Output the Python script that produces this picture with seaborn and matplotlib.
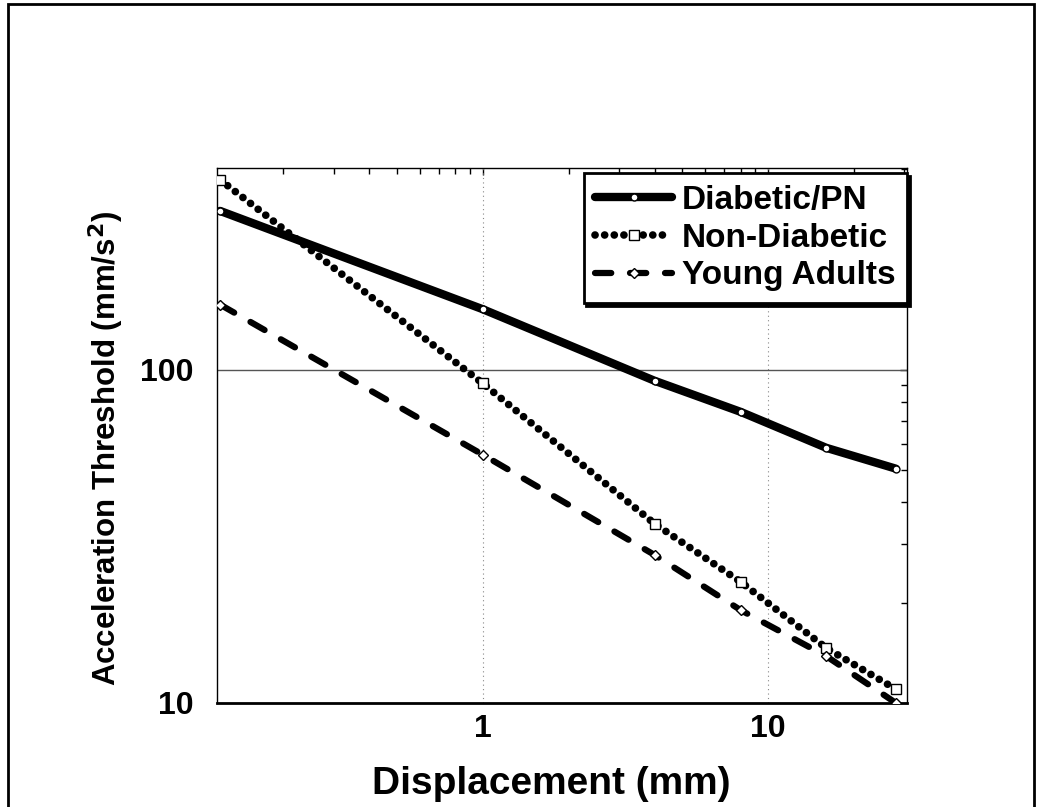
import numpy as np
import pandas as pd
import matplotlib
matplotlib.use("Agg")
import matplotlib.pyplot as plt
import seaborn as sns
from matplotlib.ticker import FixedLocator, FuncFormatter, LogLocator, NullFormatter
from matplotlib.patches import Rectangle

# Displacement (mm) and acceleration thresholds (mm/s^2)
displacement = [0.12, 1, 4, 8, 16, 28]
diabetic_pn = [300, 152, 92.7, 74.8, 58.3, 50.5]
non_diabetic = [372, 91, 34.5, 23.1, 14.6, 11.0]
young_adults = [157, 55.6, 27.8, 19.0, 13.8, 10.0]

series_names = ["Diabetic/PN", "Non-Diabetic", "Young Adults"]
x_ticks = [1, 10]
y_ticks = [10, 100]

sns.set_style("white")
plt.rcParams["font.family"] = ["Liberation Sans", "DejaVu Sans"]
plt.rcParams["font.weight"] = "bold"
for key in ["text.color", "axes.labelcolor", "xtick.color", "ytick.color"]:
    plt.rcParams[key] = "black"

fig = plt.figure(figsize=(10.38, 8.07), dpi=100)
ax = fig.add_axes([0.209, 0.129, 0.665, 0.663])

df = pd.DataFrame({
    "Displacement": displacement * 3,
    "Threshold": diabetic_pn + non_diabetic + young_adults,
    "Group": [n for n in series_names for _ in displacement],
})

styles = {
    "Diabetic/PN": dict(lw=6, linestyle="-", marker="o", ms=5),
    "Non-Diabetic": dict(lw=5.5, linestyle=(0, (0.01, 1.25)), marker="s", ms=7,
                         dash_capstyle="round"),
    "Young Adults": dict(lw=4.5, linestyle=(0, (2.6, 3.0)), marker="D", ms=5,
                         dash_capstyle="round"),
}

for name in series_names:
    st = styles[name]
    sub = df[df["Group"] == name]
    extra = {"dash_capstyle": st["dash_capstyle"]} if "dash_capstyle" in st else {}
    sns.lineplot(data=sub, x="Displacement", y="Threshold", ax=ax, color="black",
                 linewidth=st["lw"], linestyle=st["linestyle"], marker=st["marker"],
                 markersize=st["ms"], markerfacecolor="white", markeredgecolor="black",
                 markeredgewidth=1, label=name, zorder=3, **extra)

ax.set_xscale("log")
ax.set_yscale("log")
ax.set_xlim(0.117, 30.7)
ax.set_ylim(10, 404)

ax.xaxis.set_major_locator(FixedLocator(x_ticks))
ax.yaxis.set_major_locator(FixedLocator(y_ticks))
fmt = FuncFormatter(lambda v, p: f"{v:g}")
ax.xaxis.set_major_formatter(fmt)
ax.yaxis.set_major_formatter(fmt)
ax.xaxis.set_minor_locator(LogLocator(base=10, subs=np.arange(2, 10)))
ax.yaxis.set_minor_locator(LogLocator(base=10, subs=np.arange(2, 10)))
ax.xaxis.set_minor_formatter(NullFormatter())
ax.yaxis.set_minor_formatter(NullFormatter())

ax.tick_params(which="both", direction="in", top=True, right=True, color="black")
ax.tick_params(which="major", length=5, width=1, labelsize=23)
ax.tick_params(which="minor", length=4, width=1)
ax.tick_params(axis="x", which="major", pad=8)
ax.tick_params(axis="y", which="major", pad=17)

# Reference lines
for xv in x_ticks:
    ax.axvline(xv, color="#888888", lw=0.8, linestyle=(0, (1, 3)), zorder=1)
ax.axhline(100, color="#555555", lw=1.0, zorder=1)

for side in ["left", "top", "right"]:
    ax.spines[side].set_color("black")
    ax.spines[side].set_linewidth(1.0)
ax.spines["bottom"].set_color("black")
ax.spines["bottom"].set_linewidth(2.0)

ax.set_xlabel("Displacement (mm)", fontsize=28, fontweight="bold")
ax.xaxis.set_label_coords(0.484, -0.118)
ax.set_ylabel("Acceleration Threshold (mm/s$^\\mathbf{2}$)", fontsize=22.5,
              fontweight="bold")
ax.yaxis.set_label_coords(-0.132, 0.475)

leg = ax.legend(loc="upper right", bbox_to_anchor=(1.0, 0.99), fontsize=24,
                frameon=True, fancybox=False, handlelength=2.3, handletextpad=0.3,
                borderpad=0.35, labelspacing=0.2, borderaxespad=0.0,
                shadow={"color": "black", "alpha": 1.0})
leg.get_frame().set_edgecolor("black")
leg.get_frame().set_linewidth(2)
leg.get_frame().set_facecolor("white")
for t in leg.get_texts():
    t.set_fontweight("bold")

# Outer frame around the figure
fig.patches.append(Rectangle((0.008, -0.05), 0.988, 1.045, transform=fig.transFigure,
                             fill=False, edgecolor="black", lw=2))

fig.savefig("out.png", dpi=100)
